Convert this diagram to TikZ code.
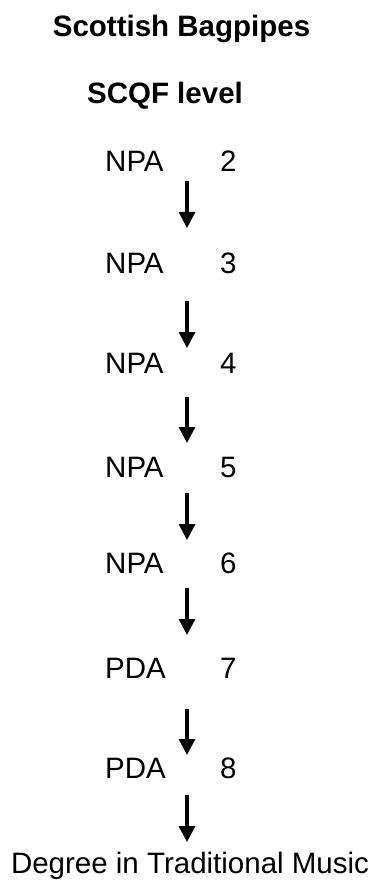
\documentclass[tikz,border=0pt]{standalone}
\usepackage{fontspec}
\setmainfont{Liberation Sans}
\usetikzlibrary{arrows.meta}
\tikzset{
  head_/.style  = {font=\fontsize{29.5}{35}\selectfont\bfseries, anchor=base, inner sep=0pt},
  award_/.style = {anchor=base west, inner sep=0pt},
  level_/.style = {anchor=base west, inner sep=0pt},
  arrow_/.style = {line width=3.3pt, -{Triangle[length=16pt,width=16pt]}}
}
\begin{document}
\begin{tikzpicture}
	[
	x                 = 1pt,
	y                 = -1pt,
	every node/.style = {font=\fontsize{29.5}{35}\selectfont}
	]
	\useasboundingbox (0,0) rectangle (374,885);
	\node [head_] (title) at (181.5,37) {Scottish Bagpipes};
	\node [head_] (scqf) at (165,104) {SCQF level};
	\foreach \name/\lvl/\y in {NPA/2/172, NPA/3/273, NPA/4/373, NPA/5/477,
	                          NPA/6/573, PDA/7/678, PDA/8/778}
	{
		\node [award_] (award\lvl) at (105,\y) {\name};
		\node [level_] (level\lvl) at (220,\y) {\lvl};
	}
	\node [anchor=base, inner sep=0pt] (degree) at (190,873) {Degree in Traditional Music};
	\foreach \i/\top/\tip in {1/181/228, 2/301/348, 3/397/443, 4/493/540,
	                          5/588/635, 6/709/755, 7/795/842}
	{
		\coordinate (s\i) at (187,\top);
		\coordinate (e\i) at (187,\tip);
		\draw [arrow_] (s\i) -- (e\i);
	}
\end{tikzpicture}
\end{document}
